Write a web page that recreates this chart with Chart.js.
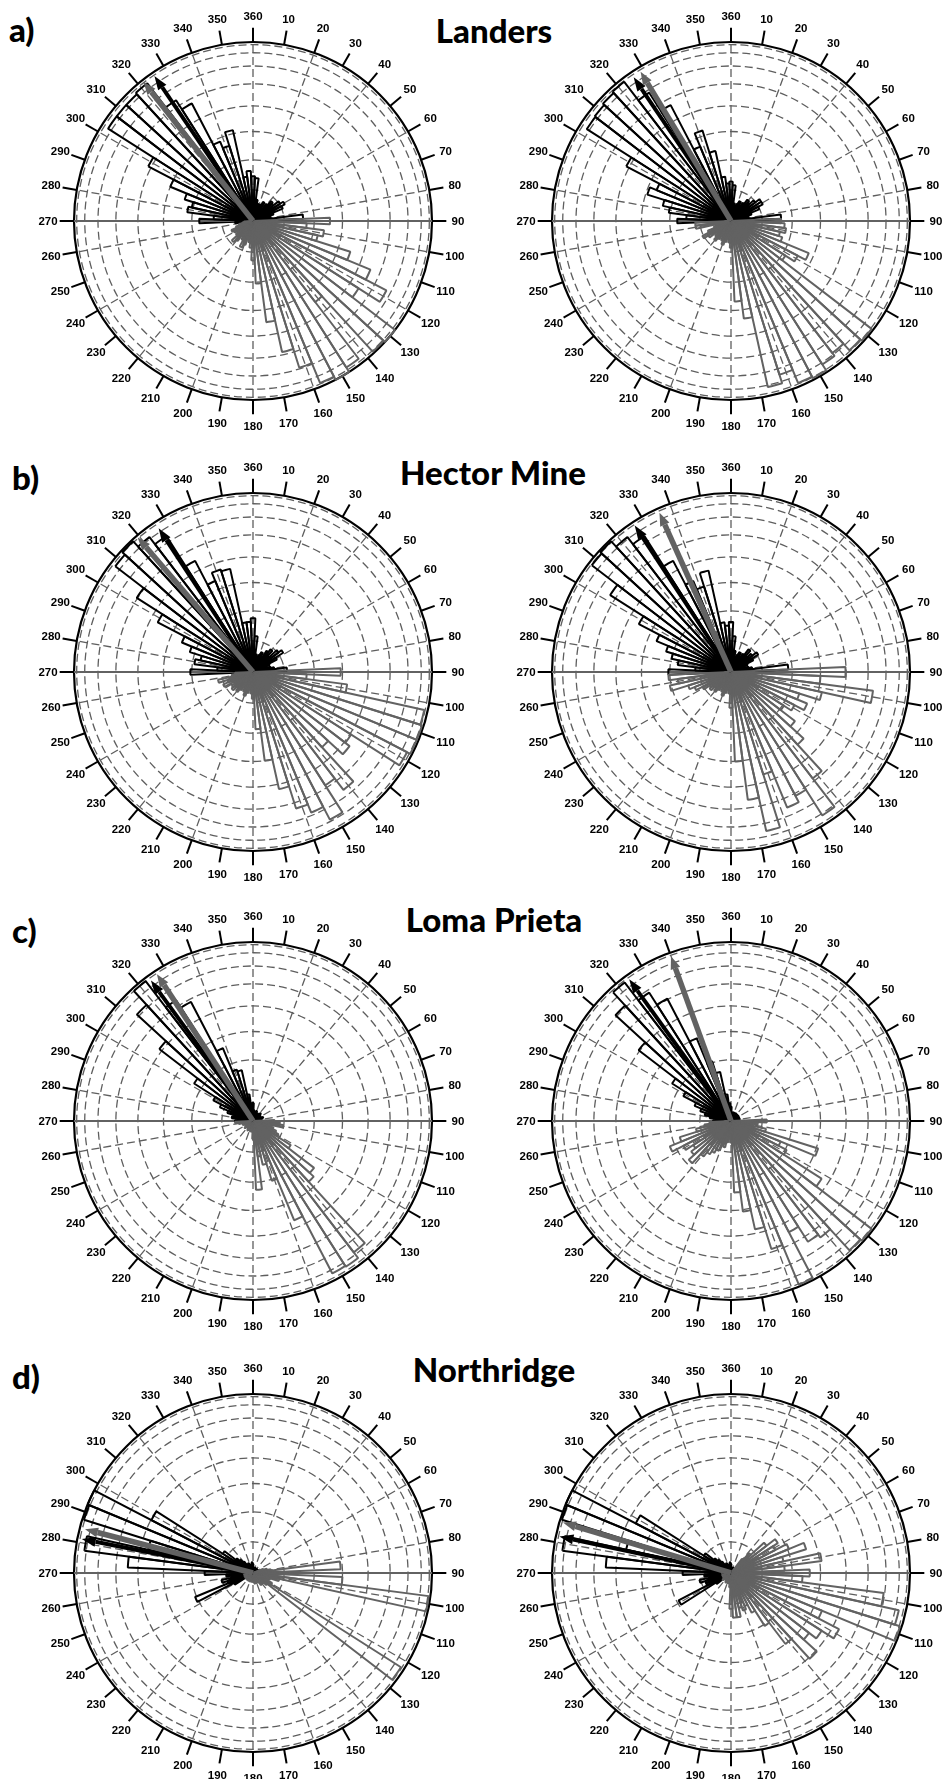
<!DOCTYPE html>
<html><head><meta charset="utf-8">
<script src="https://cdn.jsdelivr.net/npm/chart.js@4.4.1/dist/chart.umd.min.js"></script>
<style>
html,body{margin:0;padding:0;background:#fff;}
body{width:946px;height:1779px;overflow:hidden;position:relative;}
canvas.cv{position:absolute;}
.ttl{position:absolute;font-family:Lato,"Open Sans",sans-serif;font-weight:900;font-size:33px;line-height:33px;white-space:nowrap;color:#000;}
.ttl.c{width:300px;text-align:center;}
</style></head><body>

<div class="ttl" style="left:9px;top:13px;">a)</div>
<div class="ttl c" style="left:344px;top:14px;">Landers</div>
<div class="ttl" style="left:12px;top:461px;">b)</div>
<div class="ttl c" style="left:343px;top:456px;">Hector Mine</div>
<div class="ttl" style="left:12px;top:914px;">c)</div>
<div class="ttl c" style="left:344px;top:903px;">Loma Prieta</div>
<div class="ttl" style="left:12px;top:1360px;">d)</div>
<div class="ttl c" style="left:344px;top:1353px;">Northridge</div>

<canvas class="cv" id="c0" width="440" height="440" style="left:33px;top:1px"></canvas>
<canvas class="cv" id="c1" width="440" height="440" style="left:511px;top:1px"></canvas>
<canvas class="cv" id="c2" width="440" height="440" style="left:33px;top:452px"></canvas>
<canvas class="cv" id="c3" width="440" height="440" style="left:511px;top:452px"></canvas>
<canvas class="cv" id="c4" width="440" height="440" style="left:33px;top:901px"></canvas>
<canvas class="cv" id="c5" width="440" height="440" style="left:511px;top:901px"></canvas>
<canvas class="cv" id="c6" width="440" height="440" style="left:33px;top:1353px"></canvas>
<canvas class="cv" id="c7" width="440" height="440" style="left:511px;top:1353px"></canvas>

<script>
// ---------- axis / tick data ----------
// 5-degree bins, centred on 0,5,...,355 degrees (azimuth, clockwise from north)
const binLabels = Array.from({length: 72}, (_, i) => String(i * 5));
// azimuth tick labels every 10 degrees
const angleLabels = ['360','10','20','30','40','50','60','70','80','90','100','110','120','130','140','150','160','170',
  '180','190','200','210','220','230','240','250','260','270','280','290','300','310','320','330','340','350'];
const angleTickDegrees = [0,10,20,30,40,50,60,70,80,90,100,110,120,130,140,150,160,170,
  180,190,200,210,220,230,240,250,260,270,280,290,300,310,320,330,340,350];
// dashed radial grid directions
const radialGridDegrees = [0,20,40,60,80,100,120,140,160,180,200,220,240,260,280,300,320,340];
// ring positions (fraction of outer radius); last value = outer solid circle
const ringValues = [0, 0.174, 0.342, 0.5, 0.643, 0.766, 0.866, 0.940, 0.985, 1];

// ---------- series (bar lengths as fraction of radius), 4 rows of 18 bins: 0-85, 90-175, 180-265, 270-355 ----------
const Z18 = [0,0,0,0,0,0,0,0,0,0,0,0,0,0,0,0,0,0];

const landersLBlack = [
  0.25,0.24,0.12,0.10,0.08,0.10,0.12,0.08,0.12,0.15,0.14,0.18,0.20,0.18,0.12,0.10,0.10,0.28,
  ...Z18,
  0,0,0,0,0,0,0,0,0,0,0,0,0,0,0,0,0,0.10,
  0.30,0.22,0.37,0.35,0.40,0.50,0.66,0.96,0.96,0.96,0.97,0.80,0.74,0.48,0.44,0.52,0.25,0.28];
const landersLGray = [
  ...Z18,
  0.43,0.30,0.40,0.37,0.57,0.71,0.84,0.70,1.00,0.99,0.57,0.97,1.00,0.98,0.86,0.75,0.57,0.35,
  0.22,0.15,0.12,0.10,0.14,0.16,0.12,0.10,0.14,0.16,0.12,0.10,0.12,0.13,0.10,0.08,0.06,0.05,
  ...Z18];

const landersRBlack = [
  0.22,0.20,0.10,0.08,0.10,0.12,0.10,0.12,0.15,0.14,0.17,0.20,0.20,0.17,0.12,0.10,0.10,0.28,
  ...Z18,
  0,0,0,0,0,0,0,0,0,0,0,0,0,0,0,0,0,0.10,
  0.30,0.25,0.35,0.39,0.49,0.45,0.66,0.955,0.96,0.97,0.98,0.85,0.73,0.45,0.53,0.40,0.25,0.21];
const landersRGray = [
  ...Z18,
  0.28,0.30,0.31,0.28,0.30,0.47,0.42,0.36,0.99,0.98,0.93,0.95,0.99,0.98,0.90,0.95,0.55,0.45,
  0.15,0.12,0.10,0.12,0.14,0.12,0.10,0.12,0.14,0.12,0.10,0.15,0.18,0.14,0.10,0.08,0.20,0.20,
  ...Z18];

const hectorLBlack = [
  0.30,0.20,0.10,0.08,0.10,0.12,0.10,0.14,0.16,0.12,0.18,0.20,0.15,0.10,0.08,0.10,0.12,0.19,
  ...Z18,
  0,0,0,0,0,0,0,0,0,0,0,0,0,0,0,0,0,0.08,
  0.35,0.20,0.33,0.30,0.37,0.43,0.60,0.77,0.97,0.99,0.95,0.90,0.70,0.55,0.60,0.59,0.28,0.28];
const hectorLGray = [
  ...Z18,
  0.49,0.30,0.53,0.98,0.99,0.99,0.97,0.65,0.68,0.57,0.83,0.75,0.93,0.85,0.80,0.67,0.50,0.32,
  0.15,0.12,0.10,0.12,0.14,0.12,0.10,0.12,0.14,0.12,0.15,0.14,0.12,0.18,0.15,0.20,0.12,0.10,
  ...Z18];

const hectorRBlack = [
  0.28,0.20,0.12,0.08,0.10,0.12,0.10,0.12,0.16,0.12,0.15,0.18,0.14,0.10,0.08,0.10,0.12,0.32,
  ...Z18,
  0,0,0,0,0,0,0,0,0,0,0,0,0,0,0,0,0,0.08,
  0.35,0.20,0.30,0.34,0.38,0.45,0.58,0.80,0.98,0.99,0.95,0.90,0.70,0.55,0.50,0.58,0.28,0.26];
const hectorRGray = [
  ...Z18,
  0.64,0.50,0.80,0.52,0.40,0.46,0.40,0.35,0.45,0.55,0.75,0.95,0.78,0.82,0.60,0.91,0.72,0.50,
  0.20,0.12,0.10,0.12,0.14,0.12,0.10,0.12,0.14,0.12,0.15,0.14,0.18,0.22,0.25,0.35,0.30,0.35,
  ...Z18];

const lomaLBlack = [
  0.10,0.06,0.05,0.05,0.06,0.04,0.05,0.04,0.05,0.06,0.04,0.05,0.04,0.05,0.06,0.05,0.04,0.05,
  ...Z18,
  ...Z18,
  0.10,0.08,0.12,0.10,0.15,0.20,0.25,0.39,0.66,0.88,0.985,0.80,0.75,0.44,0.30,0.29,0.15,0.10];
const lomaLGray = [
  ...Z18,
  0.12,0.15,0.17,0.10,0.12,0.14,0.16,0.25,0.43,0.46,0.925,0.965,0.96,0.60,0.35,0.25,0.20,0.385,
  0.10,0.06,0.05,0.06,0.05,0.04,0.06,0.05,0.04,0.05,0.06,0.05,0.04,0.05,0.06,0.05,0.08,0.10,
  ...Z18];

const lomaRBlack = [
  0.08,0.05,0.04,0.05,0.04,0.05,0.04,0.05,0.04,0.05,0.04,0.05,0.04,0.05,0.04,0.05,0.04,0.05,
  ...Z18,
  ...Z18,
  0.10,0.08,0.12,0.15,0.18,0.22,0.30,0.39,0.65,0.875,0.975,0.85,0.77,0.50,0.35,0.28,0.15,0.10];
const lomaRGray = [
  ...Z18,
  0.20,0.15,0.12,0.20,0.51,0.30,0.35,0.60,0.99,0.98,0.82,0.80,0.70,0.99,0.75,0.62,0.51,0.40,
  0.12,0.10,0.12,0.15,0.14,0.18,0.20,0.22,0.25,0.32,0.28,0.25,0.30,0.37,0.30,0.20,0.15,0.12,
  ...Z18];

const northLBlack = [
  0.05,0.03,0.03,0.03,0.03,0.03,0.03,0.03,0.03,0.03,0.03,0.03,0.03,0.03,0.03,0.03,0.03,0.03,
  ...Z18,
  0,0,0,0,0,0,0,0,0,0,0,0,0.12,0.35,0.15,0.18,0.12,0.15,
  0.27,0.70,0.95,0.60,0.99,1.00,0.64,0.20,0.12,0.10,0.08,0.06,0.05,0.06,0.05,0.04,0.05,0.06];
const northLGray = [
  0,0,0,0,0,0,0,0,0,0,0,0,0,0,0.06,0.08,0.10,0.49,
  0.10,0.50,0.99,0.15,0.10,0.08,0.12,0.98,0.10,0.08,0.06,0.08,0.06,0.05,0.06,0.05,0.06,0.05,
  0.05,0.04,0.05,0.04,0.05,0.04,0.05,0.04,0.05,0.04,0.05,0.04,0.05,0.04,0.05,0.04,0.05,0.04,
  ...Z18];

const northRBlack = [
  0.05,0.03,0.03,0.03,0.03,0.03,0.03,0.03,0.03,0.03,0.03,0.03,0.03,0.03,0.03,0.03,0.03,0.03,
  ...Z18,
  0,0,0,0,0,0,0,0,0,0,0,0.10,0.33,0.15,0.15,0.18,0.12,0.15,
  0.27,0.70,0.95,0.60,0.99,1.00,0.60,0.18,0.12,0.10,0.08,0.06,0.05,0.06,0.05,0.04,0.05,0.06];
const northRGray = [
  0,0,0,0,0,0,0,0,0.10,0.15,0.25,0.31,0.28,0.35,0.44,0.30,0.51,0.30,
  0.44,0.40,0.86,0.96,0.99,0.55,0.68,0.60,0.55,0.65,0.50,0.35,0.25,0.20,0.22,0.20,0.25,0.25,
  0.20,0.08,0.06,0.05,0.06,0.05,0.06,0.05,0.04,0.05,0.06,0.05,0.04,0.05,0.04,0.05,0.04,0.05,
  ...Z18];

// mean-direction arrows, panel order: aL, aR, bL, bR, cL, cR, dL, dR
const blackArrowDir = [325.8, 325.9, 326.7, 326.7, 324.0, 324.3, 281.2, 282.0];
const blackArrowLen = [0.98, 0.97, 0.96, 0.98, 0.97, 0.975, 0.975, 0.98];
const grayArrowDir  = [321.8, 328.8, 319.4, 335.8, 326.8, 340.0, 284.6, 286.7];
const grayArrowLen  = [0.99, 0.975, 0.99, 0.975, 0.98, 0.98, 0.97, 0.98];

const panels = [
  [landersLBlack, landersLGray], [landersRBlack, landersRGray],
  [hectorLBlack, hectorLGray], [hectorRBlack, hectorRGray],
  [lomaLBlack, lomaLGray], [lomaRBlack, lomaRGray],
  [northLBlack, northLGray], [northRBlack, northRGray]
];

// ---------- styling ----------
const BLACK = '#000000', GRAY = '#626262', GRID = '#5e5e5e';
const TICK_OUT = 1.08, LABEL_R = 1.145;
const LAST = ringValues.length - 1;
const DASH = [8, 4];

function pos(scale, deg, v) {
  // scale.startAngle = -2.5 so that bins are centred; index (deg+2.5)/5 maps to azimuth deg
  return scale.getPointPosition((deg + 2.5) / 5, scale.getDistanceFromCenterForValue(v));
}

function drawArrow(c, s, deg, len, color, w, headLen, headW) {
  const tip = pos(s, deg, len);
  const cx = s.xCenter, cy = s.yCenter;
  const ang = Math.atan2(tip.y - cy, tip.x - cx);
  const bx = tip.x - headLen * Math.cos(ang), by = tip.y - headLen * Math.sin(ang);
  c.strokeStyle = color; c.lineWidth = w; c.lineCap = 'butt';
  c.beginPath(); c.moveTo(cx, cy); c.lineTo(bx, by); c.stroke();
  c.fillStyle = color;
  c.beginPath(); c.moveTo(tip.x, tip.y);
  c.lineTo(bx + headW * Math.sin(ang), by - headW * Math.cos(ang));
  c.lineTo(bx - headW * Math.sin(ang), by + headW * Math.cos(ang));
  c.closePath(); c.fill();
}

const decor = {
  id: 'decor',
  beforeDatasetsDraw(chart) {
    const s = chart.scales.r, c = chart.ctx;
    c.save();
    c.strokeStyle = GRID; c.lineWidth = 1.3; c.setLineDash(DASH);
    radialGridDegrees.forEach(d => {
      const p = pos(s, d, ringValues[LAST - 1]);
      c.beginPath(); c.moveTo(s.xCenter, s.yCenter); c.lineTo(p.x, p.y); c.stroke();
    });
    c.setLineDash([]);
    const a = pos(s, 270, 1), b = pos(s, 90, 1);
    c.strokeStyle = GRAY; c.lineWidth = 2;
    c.beginPath(); c.moveTo(a.x, a.y); c.lineTo(b.x, b.y); c.stroke();
    c.strokeStyle = BLACK; c.lineWidth = 2;
    angleTickDegrees.forEach(d => {
      const p1 = pos(s, d, 1), p2 = pos(s, d, TICK_OUT);
      c.beginPath(); c.moveTo(p1.x, p1.y); c.lineTo(p2.x, p2.y); c.stroke();
    });
    c.fillStyle = BLACK;
    c.font = 'bold 11.5px "Liberation Sans", Arial, sans-serif';
    c.textAlign = 'center'; c.textBaseline = 'middle';
    angleTickDegrees.forEach((d, i) => {
      const p = pos(s, d, LABEL_R);
      c.fillText(angleLabels[i], p.x, p.y + 0.5);
    });
    c.restore();
  },
  afterDatasetsDraw(chart, args, opts) {
    const s = chart.scales.r, c = chart.ctx;
    c.save();
    drawArrow(c, s, opts.blackDir, opts.blackLen, BLACK, 4, 14, 5);
    drawArrow(c, s, opts.grayDir, opts.grayLen, GRAY, 5.5, 13, 5);
    c.restore();
  }
};

panels.forEach(([black, gray], k) => {
  new Chart(document.getElementById('c' + k), {
    type: 'polarArea',
    data: {
      labels: binLabels,
      datasets: [
        {data: gray, borderColor: GRAY, backgroundColor: 'rgba(0,0,0,0)', borderWidth: 2},
        {data: black, borderColor: BLACK, backgroundColor: 'rgba(0,0,0,0)', borderWidth: 2}
      ]
    },
    options: {
      responsive: false,
      animation: false,
      events: [],
      layout: {padding: 41},
      plugins: {
        legend: {display: false},
        tooltip: {enabled: false},
        decor: {blackDir: blackArrowDir[k], blackLen: blackArrowLen[k], grayDir: grayArrowDir[k], grayLen: grayArrowLen[k]}
      },
      scales: {
        r: {
          min: 0, max: 1,
          startAngle: -2.5,
          afterBuildTicks: sc => { sc.ticks = ringValues.map(v => ({value: v})); },
          ticks: {display: false},
          pointLabels: {display: false},
          angleLines: {display: false},
          grid: {
            circular: true,
            color: ctx => ctx.index === LAST ? BLACK : GRID,
            lineWidth: ctx => ctx.index === LAST ? 2.2 : 1.3
          },
          border: {dash: ctx => ctx.index === LAST ? [] : DASH}
        }
      }
    },
    plugins: [decor]
  });
});
</script>
</body></html>
